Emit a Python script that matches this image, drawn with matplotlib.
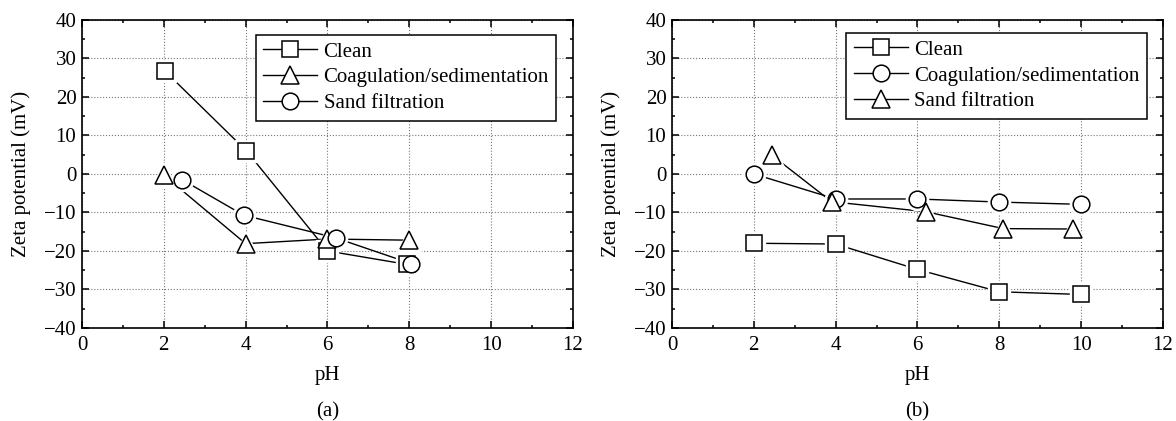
import matplotlib
matplotlib.use("Agg")
import matplotlib.pyplot as plt
from matplotlib.ticker import MultipleLocator

plt.rcParams['font.family'] = ['Liberation Serif', 'DejaVu Serif']
plt.rcParams['font.size'] = 15

# Panel (a)
a_clean_x = [2.02, 4.02, 6.0, 7.95]
a_clean_y = [26.8, 6.0, -20.0, -23.5]
a_coag_x = [2.0, 4.0, 6.0, 8.0]
a_coag_y = [-0.3, -18.1, -16.9, -17.2]
a_sand_x = [2.45, 3.95, 6.2, 8.05]
a_sand_y = [-1.5, -10.7, -16.6, -23.3]

# Panel (b)
b_clean_x = [2.0, 4.0, 6.0, 8.0, 10.0]
b_clean_y = [-18.0, -18.2, -24.8, -30.6, -31.3]
b_coag_x = [2.0, 4.0, 6.0, 8.0, 10.0]
b_coag_y = [0.0, -6.5, -6.5, -7.3, -7.9]
b_sand_x = [2.45, 3.9, 6.2, 8.1, 9.8]
b_sand_y = [4.8, -7.2, -9.8, -14.2, -14.3]

labels = ["Clean", "Coagulation/sedimentation", "Sand filtration"]


def draw_series(ax, x, y, marker, ms, label):
    # linea + pequeño hueco blanco alrededor del marcador + marcador abierto
    ax.plot(x, y, '-', color='black', lw=1.0, zorder=3)
    ax.plot(x, y, linestyle='none', marker=marker, ms=ms + 4, mfc='white',
            mec='white', mew=1.0, zorder=4)
    ax.plot(x, y, linestyle='none', marker=marker, ms=ms,
            mfc='white', mec='black', mew=1.1, zorder=5)
    leg_h, = ax.plot([], [], '-', color='black', lw=1.0, marker=marker, ms=ms,
                     mfc='white', mec='black', mew=1.1, label=label)
    return leg_h


def style_axes(ax, caption):
    ax.set_xlim(0, 12)
    ax.set_ylim(-40, 40)
    ax.xaxis.set_major_locator(MultipleLocator(2))
    ax.xaxis.set_minor_locator(MultipleLocator(1))
    ax.yaxis.set_major_locator(MultipleLocator(10))
    ax.yaxis.set_minor_locator(MultipleLocator(5))
    ax.tick_params(which='both', direction='in', top=True, right=True, width=1.1)
    ax.tick_params(which='major', length=5, labelsize=15, pad=4)
    ax.tick_params(axis='x', which='major', pad=6)
    ax.tick_params(which='minor', length=2.5)
    for s in ax.spines.values():
        s.set_linewidth(1.2)
    ax.grid(True, which='major', linestyle=':', color='#777777', lw=0.8)
    ax.set_axisbelow(True)
    ax.set_xlabel("pH", fontsize=15, labelpad=8)
    ax.set_ylabel("Zeta potential (mV)", fontsize=15)
    ax.yaxis.set_label_coords(-0.104, 0.5)
    ax.text(0.5, -0.272, caption, transform=ax.transAxes, ha='center',
            va='center', fontsize=15)


fig = plt.figure(figsize=(11.76, 4.21), dpi=100)
ax1 = fig.add_axes([0.0697, 0.221, 0.4175, 0.7316])
ax2 = fig.add_axes([0.5714, 0.221, 0.4175, 0.7316])

h1 = draw_series(ax1, a_clean_x, a_clean_y, 's', 12, labels[0])
h2 = draw_series(ax1, a_coag_x, a_coag_y, '^', 13, labels[1])
h3 = draw_series(ax1, a_sand_x, a_sand_y, 'o', 12, labels[2])
style_axes(ax1, "(a)")
leg = ax1.legend(handles=[h1, h2, h3], loc='upper right', bbox_to_anchor=(0.966, 0.952),
                 borderaxespad=0, fancybox=False, edgecolor='black', framealpha=1,
                 handlelength=2.6, handletextpad=0.3, labelspacing=0.3, fontsize=15,
                 borderpad=0.35)
leg.get_frame().set_linewidth(1.1)

g1 = draw_series(ax2, b_clean_x, b_clean_y, 's', 12, labels[0])
g2 = draw_series(ax2, b_coag_x, b_coag_y, 'o', 12, labels[1])
g3 = draw_series(ax2, b_sand_x, b_sand_y, '^', 13, labels[2])
style_axes(ax2, "(b)")
leg = ax2.legend(handles=[g1, g2, g3], loc='upper right', bbox_to_anchor=(0.967, 0.958),
                 borderaxespad=0, fancybox=False, edgecolor='black', framealpha=1,
                 handlelength=2.6, handletextpad=0.3, labelspacing=0.3, fontsize=15,
                 borderpad=0.35)
leg.get_frame().set_linewidth(1.1)

fig.savefig("out.png", dpi=100)
